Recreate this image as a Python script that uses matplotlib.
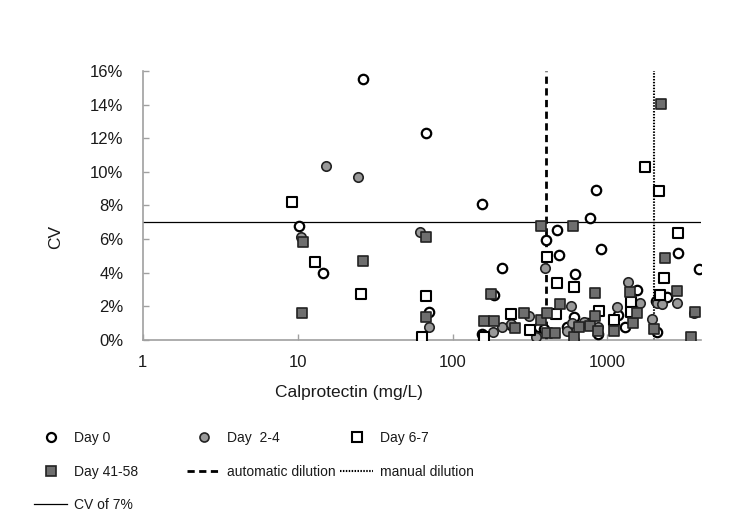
import numpy as np
import matplotlib
matplotlib.use('Agg')
import matplotlib.pyplot as plt
from matplotlib.lines import Line2D
from matplotlib.ticker import FuncFormatter

plt.rcParams['font.family'] = ['Liberation Sans', 'DejaVu Sans']

# Calprotectin (mg/L) and CV (%) per sampling day
day0_x = [10.2, 14.6, 26.3, 67.5, 71, 155, 155, 186, 210, 237, 361, 392, 403, 474, 486,
          545, 607, 614, 741, 771, 848, 870, 904, 1170, 1298, 1560, 2050, 2104, 2440, 2857, 3900]
day0_y = [6.8, 4.0, 15.5, 12.3, 1.65, 8.1, 0.36, 2.65, 4.3, 0.9, 0.76, 0.65, 5.93, 6.55, 5.06,
          0.8, 1.35, 3.9, 0.99, 7.28, 8.93, 0.35, 5.42, 1.49, 0.76, 2.98, 2.3, 0.49, 2.54, 5.2, 4.2]

day24_x = [10.5, 15.2, 24.6, 62, 70, 182, 209, 240, 311, 347, 393, 545, 578, 593, 607,
           705, 870, 1148, 1358, 1615, 1950, 2104, 2264, 2800, 3630]
day24_y = [6.15, 10.37, 9.68, 6.41, 0.76, 0.45, 0.8, 0.95, 1.45, 0.15, 4.3, 0.55, 2.04, 0.99, 0.0,
           1.09, 0.76, 1.98, 3.47, 2.22, 1.23, 2.2, 2.14, 2.22, 1.6]

day67_x = [9.2, 13, 25.8, 64, 67.5, 159, 237, 316, 409, 468, 474, 607, 881, 1100, 1413,
           1430, 1741, 2153, 2175, 2317, 2857]
day67_y = [8.2, 4.66, 2.72, 0.2, 2.64, 0.15, 1.53, 0.6, 4.92, 1.55, 3.41, 3.13, 1.75, 1.19, 2.28,
           1.69, 10.3, 8.87, 2.68, 3.67, 6.39]

day4158_x = [10.7, 10.8, 26.3, 67, 67.8, 160, 176, 184, 255, 288, 372, 374, 409, 409, 456,
             491, 598, 607, 654, 771, 830, 835, 870, 1100, 1400, 1470, 1545, 2000, 2208, 2344,
             2831, 3450, 3664]
day4158_y = [1.63, 5.82, 4.7, 1.39, 6.15, 1.1, 2.76, 1.1, 0.7, 1.6, 1.19, 6.79, 1.59, 0.4, 0.43,
             2.12, 6.8, 0.2, 0.78, 0.83, 2.78, 1.45, 0.55, 0.52, 2.88, 0.99, 1.6, 0.67, 14.05, 4.86,
             2.94, 0.2, 1.65]

auto_dilution = 400
manual_dilution = 2000
cv_limit = 7

fig = plt.figure(figsize=(7.44, 5.29), dpi=100)
ax = fig.add_axes([0.1918, 0.3573, 0.75, 0.5085])

ms = 46
ax.scatter(day0_x, day0_y, s=ms, marker='o', facecolor='white', edgecolor='black', linewidth=1.6, zorder=3)
ax.scatter(day24_x, day24_y, s=ms, marker='o', facecolor='#999999', edgecolor='#222222', linewidth=1.2, zorder=3)
ax.scatter(day67_x, day67_y, s=ms, marker='s', facecolor='white', edgecolor='black', linewidth=1.5, zorder=3)
ax.scatter(day4158_x, day4158_y, s=ms, marker='s', facecolor='#6e6e6e', edgecolor='#222222', linewidth=1.2, zorder=3)

ax.axvline(auto_dilution, color='black', lw=2.0, linestyle=(0, (2.6, 1.6)), zorder=2)
ax.axvline(manual_dilution, color='black', lw=1.5, linestyle=(0, (0.7, 0.7)), zorder=2)
ax.axhline(cv_limit, color='black', lw=0.9, zorder=2)

ax.set_xscale('log')
ax.set_xlim(1, 4000)
ax.set_ylim(0, 16)
ax.set_xticks([1, 10, 100, 1000])
ax.set_xticklabels(['1', '10', '100', '1000'])
ax.xaxis.set_minor_locator(matplotlib.ticker.NullLocator())
ax.set_yticks(np.arange(0, 17, 2))
ax.yaxis.set_major_formatter(FuncFormatter(lambda v, p: '%d%%' % v))

for s in ['top', 'right']:
    ax.spines[s].set_visible(False)
for s in ['left', 'bottom']:
    ax.spines[s].set_color('#a0a0a0')
    ax.spines[s].set_linewidth(1.2)
ax.tick_params(axis='both', direction='in', length=4, width=1, color='#a0a0a0',
               labelsize=12, labelcolor='#1a1a1a')
ax.tick_params(axis='y', pad=14)
ax.tick_params(axis='x', pad=11)

ax.set_xlabel('Calprotectin (mg/L)', fontsize=12.5, color='#1a1a1a')
ax.set_ylabel('CV', fontsize=12.5, color='#1a1a1a')
ax.xaxis.set_label_coords(0.37, -0.167)
ax.yaxis.set_label_coords(-0.143, 0.383)

# legend laid out on a grid, one entry at a time
def mk(marker, fc, ec, lw):
    return Line2D([], [], linestyle='none', marker=marker, markersize=6.5,
                  markerfacecolor=fc, markeredgecolor=ec, markeredgewidth=lw)

entries = [
    (mk('o', 'white', 'black', 1.6), 'Day 0', 34, 438),
    (mk('o', '#999999', '#222222', 1.2), 'Day  2-4', 187, 438),
    (mk('s', 'white', 'black', 1.5), 'Day 6-7', 340, 438),
    (mk('s', '#6e6e6e', '#222222', 1.2), 'Day 41-58', 34, 472),
    (Line2D([], [], color='black', lw=2.0, linestyle=(0, (2.6, 1.6))), 'automatic dilution', 187, 472),
    (Line2D([], [], color='black', lw=1.5, linestyle=(0, (0.7, 0.7))), 'manual dilution', 340, 472),
    (Line2D([], [], color='black', lw=0.9), 'CV of 7%', 34, 505),
]
W, H = 744, 529
for handle, label, px, py in entries:
    leg = fig.legend([handle], [label], loc='center left', bbox_to_anchor=(px / W, 1 - py / H),
                     frameon=False, borderpad=0, borderaxespad=0, handlelength=2.4,
                     handletextpad=0.45, fontsize=10)
    for t in leg.get_texts():
        t.set_color('#1a1a1a')

fig.savefig('out.png', dpi=100)
